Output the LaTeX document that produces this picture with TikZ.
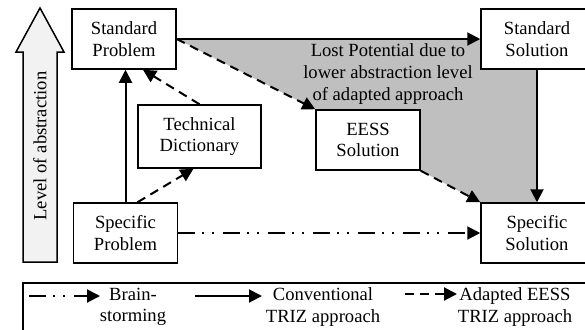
\documentclass[tikz,border=0pt]{standalone}
\usepackage{fontspec}
\setmainfont{Liberation Serif}
\usetikzlibrary{positioning,arrows.meta,backgrounds}

\begin{document}
\begin{tikzpicture}[
    x=0.5pt, y=-0.5pt,
    every node/.style={font=\fontsize{9.3}{10.8}\selectfont, align=center},
    box/.style={
        draw,
        line width=0.75pt,
        fill=white,
        minimum width=52pt,
        minimum height=30pt,
        inner sep=0pt,
        align=center
    },
    flow/.style={line width=1pt, -{Triangle[length=6.5pt,width=6.5pt]}},
    adapted/.style={flow, dash pattern=on 4.5pt off 3pt},
    brain/.style={flow, dash pattern=on 8.5pt off 3.5pt on 1pt off 4pt on 1pt off 4.5pt}
]

\useasboundingbox (0,0) rectangle (585,329);
\clip (0,0) rectangle (585,329);

% level of abstraction
\draw[line width=0.75pt, fill=gray!10] (23,262) -- (23,52) -- (16,52) -- (40,8)
    -- (64,52) -- (57,52) -- (57,262) -- cycle;
\node[rotate=90] (level) at (40,146) {Level of abstraction};

\node[box] (stdprob) at (124,39) {Standard\\Problem};
\node[box, minimum width=61.5pt, minimum height=31.5pt] (techdict) at (199.5,136.5) {Technical\\Dictionary};
\node[box] (specprob) at (125.5,233) {Specific\\Problem};
\node[box] (eess) at (368,140) {EESS\\Solution};
\node[box, minimum width=56pt] (stdsol) at (537,39) {Standard\\Solution};
\node[box, minimum width=56pt] (specsol) at (537,233) {Specific\\Solution};

% lost potential
\begin{scope}[on background layer]
\fill[gray!50] (stdprob.east) -- (stdsol.center) -- (specsol.north) -- (specsol.north west)
    -- (eess.south east) -- (eess.north west) -- cycle;
\end{scope}
\node (lost) at (388,74) {Lost Potential due to\\lower abstraction level\\of adapted approach};

\draw[flow] (stdprob.east) -- (stdsol.west);
\draw[flow] (stdsol.south) -- (specsol.north);
\draw[flow] (specprob.north) -- (specprob.north |- stdprob.south);
\draw[adapted] ([xshift=6pt]specprob.north) -- ([xshift=-3pt]techdict.south);
\draw[adapted] (techdict.north) -- ([xshift=9.5pt]stdprob.south);
\draw[adapted] (stdprob.east) -- (eess.north west);
\draw[adapted] (eess.south east) -- (specsol.north west);
\draw[brain] (specprob.east) -- (specsol.west);

% legend
\draw[line width=0.75pt] (23,283) rectangle (600,345);
\coordinate (bsfrom) at (29,296);
\coordinate (bsto) at (100,296);
\coordinate (convfrom) at (195,296);
\coordinate (convto) at (262,296);
\coordinate (adfrom) at (405,294);
\coordinate (adto) at (457,294);
\draw[brain] (bsfrom) -- (bsto);
\node (bstext) at (133,307) {Brain-\\storming};
\draw[flow] (convfrom) -- (convto);
\node (convtext) at (323,307) {Conventional\\TRIZ approach};
\draw[adapted] (adfrom) -- (adto);
\node (adtext) at (515,307) {Adapted EESS\\TRIZ approach};

\end{tikzpicture}
\end{document}
